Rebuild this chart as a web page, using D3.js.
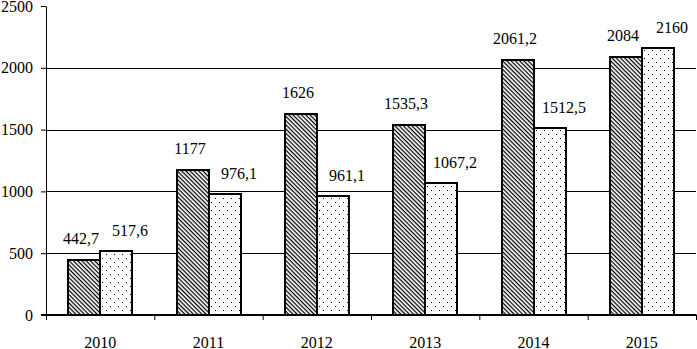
<!DOCTYPE html>
<html lang="ru">
<head>
<meta charset="UTF-8">
<script src="https://d3js.org/d3.v7.min.js"></script>
<style>
    body { margin: 0; background: #fff; }
</style>
</head>
<body>
<div id="chart"></div>
<script>
    // данные
    const years = ["2010", "2011", "2012", "2013", "2014", "2015"];
    const seriesA = [442.7, 1177, 1626, 1535.3, 2061.2, 2084];
    const seriesB = [517.6, 976.1, 961.1, 1067.2, 1512.5, 2160];
    const yTicks = [0, 500, 1000, 1500, 2000, 2500];

    const W = 697, H = 349;
    const plotLeft = 46, plotRight = 696, plotTop = 6, plotBottom = 315;
    const FONT = '"Liberation Serif", "Times New Roman", Times, serif';

    const svg = d3.select("#chart").append("svg")
        .attr("width", W).attr("height", H)
        .attr("font-family", FONT).attr("font-size", 16);

    // узоры заливки
    const defs = svg.append("defs");
    const hatch = defs.append("pattern")
        .attr("id", "hatch").attr("patternUnits", "userSpaceOnUse")
        .attr("width", 6).attr("height", 3)
        .attr("patternTransform", "rotate(45)");
    hatch.append("rect").attr("width", 6).attr("height", 3).attr("fill", "#fff");
    hatch.append("line").attr("x1", 0).attr("x2", 6).attr("y1", 0.6).attr("y2", 0.6)
        .attr("stroke", "#000").attr("stroke-width", 1.3);

    const dots = defs.append("pattern")
        .attr("id", "dots").attr("patternUnits", "userSpaceOnUse")
        .attr("width", 8).attr("height", 8);
    dots.append("rect").attr("width", 8).attr("height", 8).attr("fill", "#fff");
    dots.append("rect").attr("x", 2).attr("y", 2).attr("width", 1).attr("height", 1).attr("fill", "#000");
    dots.append("rect").attr("x", 6).attr("y", 6).attr("width", 1).attr("height", 1).attr("fill", "#000");

    // шкалы
    const x0 = d3.scaleBand().domain(years).range([plotLeft, plotRight])
        .paddingInner(0.41).paddingOuter(0.205);
    const x1 = d3.scaleBand().domain([0, 1]).range([0, x0.bandwidth()]);
    const y = d3.scaleLinear().domain([0, 2500]).range([plotBottom, plotTop]);

    // сетка
    svg.append("g").selectAll("line")
        .data(yTicks.filter(d => d > 0 && d < 2500))
        .join("line")
        .attr("x1", plotLeft).attr("x2", plotRight)
        .attr("y1", d => Math.round(y(d)) + 0.5).attr("y2", d => Math.round(y(d)) + 0.5)
        .attr("stroke", "#000").attr("stroke-width", 1);

    // столбцы
    const rows = years.map((yr, i) => ({ yr, vals: [seriesA[i], seriesB[i]] }));
    const fills = ["url(#hatch)", "url(#dots)"];
    const groups = svg.append("g").selectAll("g")
        .data(rows).join("g")
        .attr("transform", d => `translate(${Math.round(x0(d.yr))},0)`);

    groups.selectAll("rect")
        .data(d => d.vals.map((v, k) => ({ v, k })))
        .join("rect")
        .attr("x", d => Math.round(x1(d.k)))
        .attr("y", d => Math.round(y(d.v)))
        .attr("width", Math.round(x1.bandwidth()))
        .attr("height", d => plotBottom - Math.round(y(d.v)))
        .attr("fill", d => fills[d.k])
        .attr("stroke", "#000").attr("stroke-width", 2);

    // подписи значений
    const labelShift = [{ dx: -3, dy: -16 }, { dx: 14, dy: -15 }];
    groups.selectAll("text")
        .data(d => d.vals.map((v, k) => ({ v, k })))
        .join("text")
        .attr("x", d => x1(d.k) + x1.bandwidth() / 2 + labelShift[d.k].dx)
        .attr("y", d => y(d.v) + labelShift[d.k].dy)
        .attr("text-anchor", "middle")
        .attr("fill", "#000")
        .text(d => String(d.v).replace(".", ","));

    // ось Y
    const yAxis = svg.append("g")
        .attr("transform", `translate(${plotLeft},0)`)
        .call(d3.axisLeft(y).tickValues(yTicks).tickFormat(d3.format("d"))
            .tickSize(5).tickSizeOuter(0).tickPadding(8));
    yAxis.attr("font-family", FONT).attr("font-size", 16);
    yAxis.selectAll("line, path").attr("stroke", "#000");
    yAxis.selectAll("text").attr("fill", "#000");

    // ось X: деления на границах категорий
    const xb = d3.scaleLinear().domain([0, years.length]).range([plotLeft, plotRight]);
    const xTickAxis = svg.append("g")
        .attr("transform", `translate(0,${plotBottom})`)
        .call(d3.axisBottom(xb).ticks(years.length).tickSize(5).tickSizeOuter(0).tickFormat(""));
    xTickAxis.select(".domain").remove();
    xTickAxis.selectAll("line").attr("stroke", "#000");

    svg.append("line")
        .attr("x1", plotLeft - 5).attr("x2", plotRight + 0.5)
        .attr("y1", plotBottom).attr("y2", plotBottom)
        .attr("stroke", "#000").attr("stroke-width", 2);

    const xAxis = svg.append("g")
        .attr("transform", `translate(0,${plotBottom})`)
        .call(d3.axisBottom(x0).tickSize(0));
    xAxis.attr("font-family", FONT).attr("font-size", 16);
    xAxis.select(".domain").remove();
    xAxis.selectAll("text")
        .attr("y", 33).attr("dy", 0).attr("fill", "#000");
</script>
</body>
</html>
